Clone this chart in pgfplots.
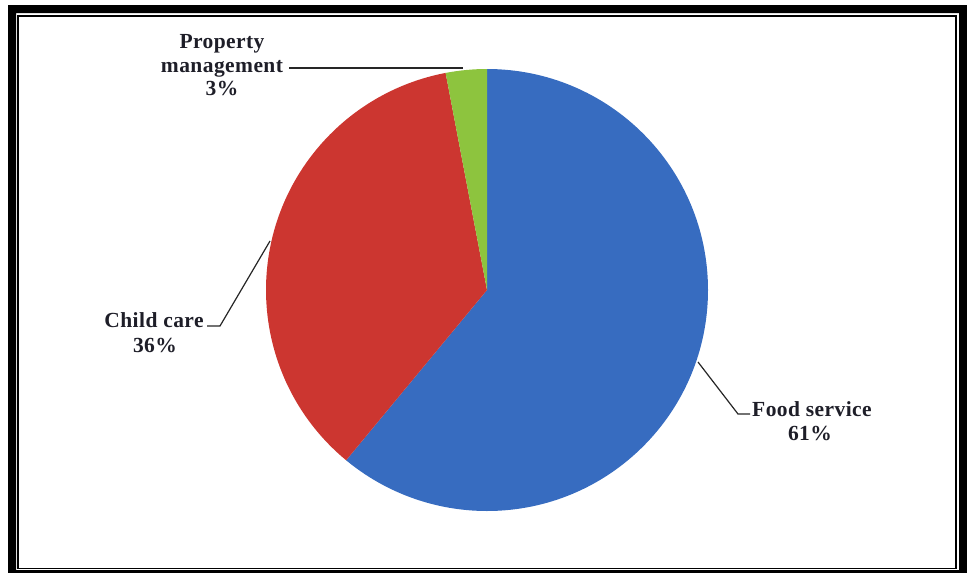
\documentclass[border=0pt]{standalone}
\usepackage{fontspec}
\setmainfont{Liberation Serif}
\usepackage{pgfplots}
\pgfplotsset{compat=1.18}
\definecolor{foodblue}{RGB}{55,108,192}
\definecolor{carered}{RGB}{204,54,48}
\definecolor{propgreen}{RGB}{141,196,62}
\definecolor{labelink}{RGB}{30,30,40}
\tikzset{lbl/.style={font=\fontsize{21.5}{25}\selectfont\bfseries\addfontfeatures{LetterSpace=2}, text=labelink, anchor=base, inner sep=0pt}}
% shares in percent
\def\food{61}
\def\care{36}
\def\prop{3}
\begin{document}
\begin{tikzpicture}
\begin{axis}[
    scale only axis,
    width=967pt, height=573pt,
    xmin=0, xmax=967, ymin=0, ymax=573,
    y dir=reverse,
    hide axis,
    clip=false,
  ]
\coordinate (bl) at (axis cs:0,573);
\coordinate (tr) at (axis cs:967,0);
% frame
\fill[black, even odd rule] (axis cs:8,5) rectangle (axis cs:980,585)
  (axis cs:16,13) rectangle (axis cs:959,570);
\draw[black, line width=1.6pt] (axis cs:17.8,15.8) rectangle (axis cs:956.2,568.4);
% slices, clockwise from 12 o'clock
\fill[foodblue] (axis cs:487,290) -- ++(90:221pt)
  arc[start angle=90, delta angle=-3.6*\food, radius=221pt] -- cycle;
\fill[carered] (axis cs:487,290) -- ++({90-3.6*\food}:221pt)
  arc[start angle={90-3.6*\food}, delta angle=-3.6*\care, radius=221pt] -- cycle;
\fill[propgreen] (axis cs:487,290) -- ++({90-3.6*(\food+\care)}:221pt)
  arc[start angle={90-3.6*(\food+\care)}, delta angle=-3.6*\prop, radius=221pt] -- cycle;
% leader lines
\addplot[black!85, line width=1.2pt, no markers] coordinates {(289,68) (463,68)};
\addplot[black!85, line width=1.2pt, no markers] coordinates {(207,326) (220,326) (270,241)};
\addplot[black!85, line width=1.2pt, no markers] coordinates {(698,362) (738,414) (750,414)};
% labels
\node[lbl] at (axis cs:222,48) {Property};
\node[lbl] at (axis cs:222,72) {management};
\node[lbl] at (axis cs:222,95) {3\%};
\node[lbl] at (axis cs:154,327) {Child care};
\node[lbl] at (axis cs:155,352) {36\%};
\node[lbl] at (axis cs:812,416) {Food service};
\node[lbl] at (axis cs:810,440) {61\%};
\end{axis}
\pgfresetboundingbox
\path[use as bounding box] (bl) rectangle (tr);
\end{tikzpicture}
\end{document}
